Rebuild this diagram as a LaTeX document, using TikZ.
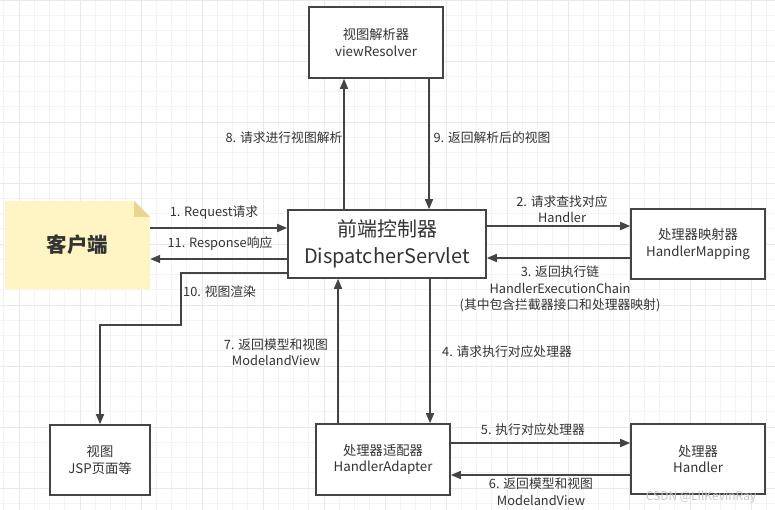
\documentclass[tikz,border=0pt]{standalone}
\usepackage{fontspec}
\setmainfont{Noto Sans CJK SC}
\usetikzlibrary{arrows.meta}
\definecolor{lc}{HTML}{444444}
\definecolor{tc}{HTML}{333333}
\definecolor{gmin}{HTML}{F3F3F3}
\definecolor{gmaj}{HTML}{E8E8E8}
\definecolor{notefill}{HTML}{FFF4C3}
\definecolor{notefold}{HTML}{E9D68E}
\begin{document}
\begin{tikzpicture}[x=1pt,y=-1pt,
  box/.style={draw=lc, line width=1.6pt, fill=white, rectangle, inner sep=0pt, align=center,
    text=tc, font=\fontsize{13.3}{16.5}\selectfont},
  arr/.style={draw=lc, line width=1.6pt, -{Triangle[length=10pt,width=8pt]}},
  lbl/.style={text=tc, align=center, inner sep=0pt, font=\fontsize{12.8}{16.5}\selectfont}]
\useasboundingbox (0,0) rectangle (775,510);
\fill[white] (0,0) rectangle (775,510);
% grid
\foreach \i in {0,...,51} {
  \pgfmathsetmacro{\gx}{3.7+15.25*\i}
  \draw[gmin, line width=0.8pt] (\gx,0) -- (\gx,510);
}
\foreach \i in {0,...,34} {
  \pgfmathsetmacro{\gy}{15.25*\i}
  \draw[gmin, line width=0.8pt] (0,\gy) -- (775,\gy);
}
\foreach \i in {0,...,12} {
  \pgfmathsetmacro{\gx}{19+61*\i}
  \draw[gmaj, line width=0.8pt] (\gx,0) -- (\gx,510);
}
\foreach \i in {0,...,8} {
  \pgfmathsetmacro{\gy}{61*\i}
  \draw[gmaj, line width=0.8pt] (0,\gy) -- (775,\gy);
}
% client note
\fill[notefill] (5,201) -- (134,201) -- (150,217) -- (150,289) -- (5,289) -- cycle;
\fill[notefold] (134,201) -- (150,217) -- (134,217) -- cycle;
\node[inner sep=0pt, minimum width=145pt, minimum height=88pt, text=tc,
  font=\fontsize{20.5}{23}\selectfont\bfseries] (client) at (77.5,245) {客户端};
% boxes
\node[box, minimum width=134pt, minimum height=71pt] (VR) at (376,42.5) {视图解析器\\viewResolver};
\node[box, minimum width=198pt, minimum height=68pt, font=\fontsize{20}{26.5}\selectfont] (DS) at (387,244) {前端控制器\\DispatcherServlet};
\node[box, minimum width=134pt, minimum height=70pt] (HM) at (698,244) {处理器映射器\\HandlerMapping};
\node[box, minimum width=100pt, minimum height=70pt] (JSP) at (100,460) {视图\\JSP页面等};
\node[box, minimum width=134pt, minimum height=71pt] (HA) at (383,459.5) {处理器适配器\\HandlerAdapter};
\node[box, minimum width=134pt, minimum height=70pt] (H) at (698,459) {处理器\\Handler};
% helper coordinates
\coordinate (x8) at (344,0);
\coordinate (x9) at (429,0);
\coordinate (x7) at (338,0);
\coordinate (x4) at (430,0);
\coordinate (y1) at (0,228);
\coordinate (y11) at (0,259);
\coordinate (y2) at (0,226);
\coordinate (y3) at (0,258);
\coordinate (y5) at (0,443);
\coordinate (y6) at (0,475);
\coordinate (y10) at (0,273);
\coordinate (k1) at (181,273);
\coordinate (k2) at (181,325);
\coordinate (k3) at (100,325);
% connectors
\draw[arr] (DS.north -| x8) -- (VR.south -| x8);
\draw[arr] (VR.south -| x9) -- (DS.north -| x9);
\draw[arr] (client.east |- y1) -- (DS.west |- y1);
\draw[arr] (DS.west |- y11) -- (client.east |- y11);
\draw[arr] (DS.west |- y10) -- (k1) -- (k2) -- (k3) -- (JSP.north);
\draw[arr] (DS.east |- y2) -- (HM.west |- y2);
\draw[arr] (HM.west |- y3) -- (DS.east |- y3);
\draw[arr] (HA.north -| x7) -- (DS.south -| x7);
\draw[arr] (DS.south -| x4) -- (HA.north -| x4);
\draw[arr] (HA.east |- y5) -- (H.west |- y5);
\draw[arr] (H.west |- y6) -- (HA.east |- y6);
% labels
\node[lbl] (l8) at (284,138) {8. 请求进行视图解析};
\node[lbl] (l9) at (492,138) {9. 返回解析后的视图};
\node[lbl] (l1) at (214,213) {1. Request请求};
\node[lbl] (l11) at (220,244) {11. Response响应};
\node[lbl, anchor=west] (l10) at (183,292) {10. 视图渲染};
\node[lbl] (l2) at (562,209) {2. 请求查找对应\\Handler};
\node[lbl] (l3) at (560,289) {3. 返回执行链\\HandlerExecutionChain\\(其中包含拦截器接口和处理器映射)};
\node[lbl] (l7) at (276,352) {7. 返回模型和视图\\ModelandView};
\node[lbl, anchor=west] (l4) at (442,352) {4. 请求执行对应处理器};
\node[lbl] (l5) at (533,430) {5. 执行对应处理器};
\node[lbl] (l6) at (541,491.5) {6. 返回模型和视图\\ModelandView};
\node[text=black!22, inner sep=0pt, font=\fontsize{12}{13}\selectfont] (wm) at (701,497) {CSDN @LilKevinRay};
\end{tikzpicture}
\end{document}
